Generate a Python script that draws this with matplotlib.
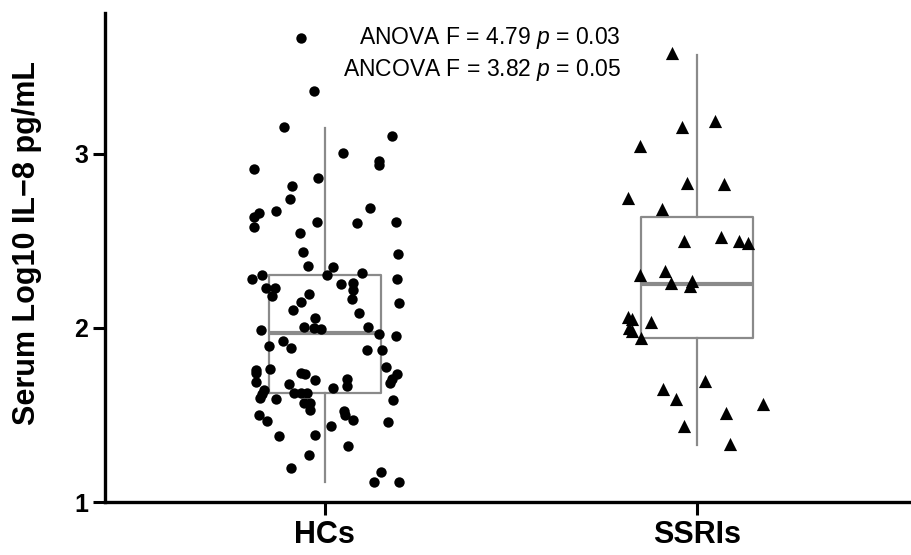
import numpy as np
import matplotlib
matplotlib.use("Agg")
import matplotlib.pyplot as plt

plt.rcParams['font.family'] = ['Liberation Sans', 'DejaVu Sans']
plt.rcParams['mathtext.fontset'] = 'custom'
plt.rcParams['mathtext.rm'] = 'Liberation Sans'
plt.rcParams['mathtext.it'] = 'Liberation Sans:italic'

# Gruppi
groups = ["HCs", "SSRIs"]

# Valori (Log10 IL-8) e spostamento orizzontale del jitter
hc_values = [3.667, 3.362, 3.155, 3.103, 3.006, 2.960, 2.937, 2.914, 2.862, 2.816,
             2.741, 2.661, 2.638, 2.580, 2.672, 2.690, 2.609, 2.603, 2.609, 2.546,
             2.437, 2.425, 2.356, 2.351, 2.316, 2.305, 2.282, 2.305, 2.282, 2.230,
             2.230, 2.184, 2.253, 2.259, 2.218, 2.167, 2.195, 2.149, 2.103, 2.144,
             2.086, 2.057, 1.989, 2.006, 2.000, 1.994, 2.006, 1.966, 1.954, 1.897,
             1.925, 1.885, 1.874, 1.874, 1.759, 1.741, 1.690, 1.764, 1.741, 1.736,
             1.701, 1.776, 1.736, 1.707, 1.684, 1.707, 1.667, 1.678, 1.655, 1.644,
             1.621, 1.598, 1.626, 1.626, 1.626, 1.592, 1.569, 1.569, 1.529, 1.586,
             1.500, 1.466, 1.523, 1.500, 1.471, 1.460, 1.437, 1.379, 1.385, 1.322,
             1.270, 1.195, 1.172, 1.115, 1.115]
hc_jitter = [-0.065, -0.030, -0.110, 0.180, 0.048, 0.145, 0.145, -0.191, -0.019, -0.089,
             -0.094, -0.177, -0.191, -0.191, -0.132, 0.121, -0.022, 0.086, 0.191, -0.067,
             -0.059, 0.196, -0.046, 0.022, 0.099, 0.005, -0.196, -0.169, 0.194, -0.159,
             -0.134, -0.142, 0.043, 0.075, 0.075, 0.073, -0.043, -0.065, -0.086, 0.199,
             0.091, -0.027, -0.172, -0.056, -0.030, -0.011, 0.116, 0.145, 0.191, -0.151,
             -0.113, -0.091, 0.113, 0.153, -0.185, -0.185, -0.185, -0.148, -0.065, -0.054,
             -0.027, 0.164, 0.194, 0.180, 0.175, 0.059, 0.059, -0.097, 0.022, -0.164,
             -0.169, -0.175, -0.083, -0.065, -0.048, -0.132, -0.056, -0.040, -0.040, 0.183,
             -0.177, -0.156, 0.051, 0.054, 0.075, 0.169, 0.016, -0.124, -0.027, 0.062,
             -0.043, -0.091, 0.151, 0.132, 0.199]

ssri_values = [3.580, 3.155, 3.190, 3.046, 2.833, 2.828, 2.747, 2.684, 2.500, 2.523,
               2.500, 2.489, 2.305, 2.328, 2.259, 2.270, 2.241, 2.063, 2.052, 2.000,
               1.983, 2.034, 1.943, 1.695, 1.649, 1.592, 1.511, 1.563, 1.437, 1.333]
ssri_jitter = [-0.067, -0.040, 0.048, -0.153, -0.027, 0.073, -0.185, -0.094, -0.035, 0.065,
               0.113, 0.137, -0.153, -0.086, -0.070, -0.013, -0.019, -0.185, -0.175, -0.183,
               -0.175, -0.124, -0.151, 0.022, -0.091, -0.056, 0.078, 0.177, -0.035, 0.089]

# Statistiche dei box
box_q1 = [1.626, 1.943]
box_med = [1.971, 2.253]
box_q3 = [2.303, 2.638]
box_low = [1.115, 1.328]
box_high = [3.149, 3.569]

fig = plt.figure(figsize=(9.11, 5.55), dpi=100)
ax = fig.add_axes([105 / 911, 53 / 555, 806 / 911, 489 / 555])

stats = []
for i, g in enumerate(groups):
    stats.append(dict(label=g, q1=box_q1[i], med=box_med[i], q3=box_q3[i],
                      whislo=box_low[i], whishi=box_high[i], fliers=[]))

grey = "#8a8a8a"
ax.bxp(stats, positions=[1, 2], widths=0.3, showcaps=False, showfliers=False,
       boxprops=dict(color=grey, linewidth=1.6),
       whiskerprops=dict(color=grey, linewidth=1.6),
       medianprops=dict(color=grey, linewidth=3.0))

ax.scatter(1 + np.array(hc_jitter), hc_values, s=56, marker="o", color="black",
           linewidths=0, zorder=3)
ax.scatter(2 + np.array(ssri_jitter), ssri_values, s=90, marker="^", color="black",
           linewidths=0, zorder=3)

ax.text(1.796, 3.667, r"ANOVA F = 4.79 $\it{p}$ = 0.03", ha="right", va="center", fontsize=16.5)
ax.text(1.796, 3.483, r"ANCOVA F = 3.82 $\it{p}$ = 0.05", ha="right", va="center", fontsize=16.5)

ax.set_xlim(0.409, 2.575)
ax.set_ylim(1.0, 3.81)
ax.set_xticks([1, 2])
ax.set_xticklabels(groups, fontsize=22, fontweight="bold")
ax.set_yticks([1, 2, 3])
ax.set_yticklabels(["1", "2", "3"], fontsize=18, fontweight="bold")
ax.tick_params(axis="both", length=9, width=2.2, color="black")
ax.tick_params(axis="y", pad=3)
ax.tick_params(axis="x", pad=4)

for s in ["top", "right"]:
    ax.spines[s].set_visible(False)
for s in ["left", "bottom"]:
    ax.spines[s].set_linewidth(2.4)
    ax.spines[s].set_color("black")

ax.set_ylabel("Serum Log10 IL\u22128 pg/mL", fontsize=22, fontweight="bold")
ax.yaxis.set_label_coords(-0.078, 0.53)

fig.savefig("out.png", dpi=100)
